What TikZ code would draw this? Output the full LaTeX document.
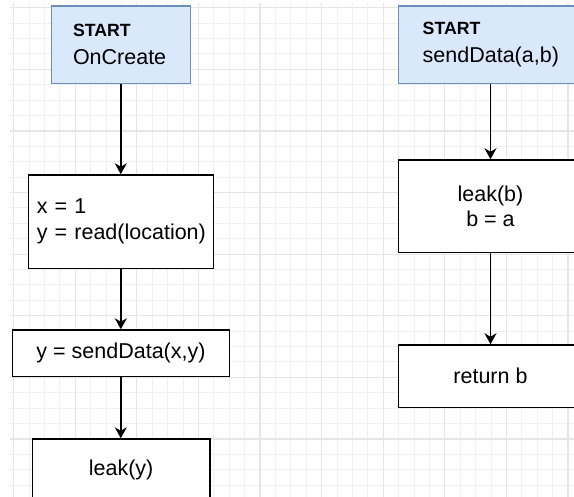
\documentclass[tikz,border=0pt]{standalone}
\usepackage{fontspec}
\setmainfont{Liberation Sans}
\usetikzlibrary{arrows.meta}
\definecolor{startfill}{HTML}{DAE8FC}
\definecolor{startdraw}{HTML}{6C8EBF}
\definecolor{gridminor}{HTML}{F0F0F0}
\definecolor{gridmajor}{HTML}{E6E6E6}
\tikzset{
  base/.style={draw=black, line width=1.5pt, fill=white, rectangle, inner sep=0pt,
    font=\fontsize{21.5}{25.8}\selectfont},
  startbox/.style={base, draw=startdraw, fill=startfill, align=left},
  leftbox/.style={base, align=left},
  centerbox/.style={base, align=center},
  flow/.style={draw=black, line width=1.5pt, -{Stealth[length=11pt,width=12pt,inset=3.5pt]}},
  gminor/.style={draw=gridminor, line width=1pt},
  gmajor/.style={draw=gridmajor, line width=1.2pt},
}
\newcommand{\startlabel}{\textbf{\fontsize{17.7}{25.8}\selectfont START}}
\begin{document}
\begin{tikzpicture}[x=1pt,y=-1pt]
\useasboundingbox (0,0) rectangle (574,497);
\clip (0,0) rectangle (574,497);
\fill[white] (0,0) rectangle (574,497);
% grid
\foreach \i in {0,...,36} {
  \pgfmathsetmacro\xx{13.6+15.4*\i}
  \draw[gminor] (\xx,3) -- (\xx,497);
}
\foreach \i in {0,...,32} {
  \pgfmathsetmacro\yy{7.8+15.4*\i}
  \draw[gminor] (10,\yy) -- (574,\yy);
}
\foreach \i in {0,...,9} {
  \pgfmathsetmacro\xx{13.6+61.6*\i}
  \draw[gmajor] (\xx,3) -- (\xx,497);
}
\foreach \i in {0,...,8} {
  \pgfmathsetmacro\yy{7.8+61.6*\i}
  \draw[gmajor] (10,\yy) -- (574,\yy);
}
% left column
\node[startbox, minimum width=139pt, minimum height=77.3pt, inner xsep=21.3pt, text width=96.4pt]
  (s1) at (121.2,44.65) {\startlabel\\[2.5pt]OnCreate};
\node[leftbox, minimum width=185pt, minimum height=93.3pt, inner xsep=8.5pt, text width=168pt]
  (b1) at (120.8,221.65) {x = 1\\\mbox{y = read(location)}};
\node[centerbox, minimum width=216.6pt, minimum height=46.7pt]
  (b2) at (121.0,353.35) {y = sendData(x,y)};
\node[centerbox, minimum width=177.7pt, minimum height=61pt, anchor=north]
  (b3) at (121.15,438.3) {leak(y)};
% right column
\node[startbox, minimum width=183.6pt, minimum height=77.3pt, inner xsep=24pt, text width=135.6pt]
  (s2) at (490.5,44.65) {\startlabel\\[2.5pt]sendData(a,b)};
\node[centerbox, minimum width=183.6pt, minimum height=92.7pt]
  (r1) at (490.5,206.35) {leak(b)\\b = a};
\node[centerbox, minimum width=183.6pt, minimum height=62.3pt]
  (r2) at (490.5,376.15) {return b};
% connectors
\draw[flow] (s1.south -| b1.north) -- (b1.north);
\draw[flow] (b1.south) -- (b2.north -| b1.south);
\draw[flow] (b2.south -| b1.south) -- (b3.north -| b1.south);
\draw[flow] (s2.south) -- (r1.north);
\draw[flow] (r1.south) -- (r2.north);
\end{tikzpicture}
\end{document}
